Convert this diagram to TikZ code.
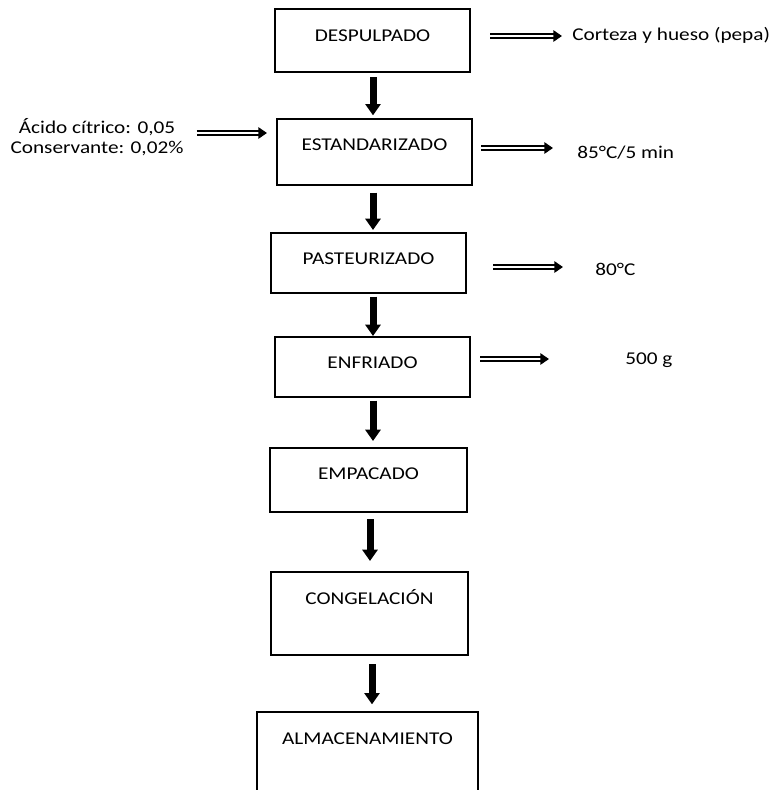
\documentclass[tikz,border=0pt]{standalone}
\usepackage{fontspec}
\setmainfont{Carlito}[FakeStretch=1.18]
\usetikzlibrary{arrows.meta,calc}

\def\u{0.75pt}

\begin{document}
\begin{tikzpicture}[x=0.75pt,y=-0.75pt,
  stepbox/.style={draw, line width=1.5pt, inner sep=0pt},
  steptext/.style={font=\fontsize{13.5pt}{15pt}\selectfont, inner sep=0pt, anchor=base},
  note/.style={font=\fontsize{13.5pt}{15pt}\selectfont, inner sep=0pt},
  flow/.style={line width=5.25pt, -{Triangle[width=11.25pt,length=8.5pt]}},
  feed/.style={double=white, double distance=1.8pt, line width=1.4pt,
    -{Triangle[width=8.5pt,length=6.5pt]}},
]
\useasboundingbox (0,0) rectangle (773,790);
\clip (0,0) rectangle (773,790);

% process steps
\node[stepbox, minimum width=195*\u, minimum height=63*\u] (d1) at (372.5,40.5) {};
\node[stepbox, minimum width=195*\u, minimum height=66*\u] (d2) at (374.5,152) {};
\node[stepbox, minimum width=195*\u, minimum height=60*\u] (d3) at (368.5,263) {};
\node[stepbox, minimum width=195*\u, minimum height=60*\u] (d4) at (372.5,367) {};
\node[stepbox, minimum width=197*\u, minimum height=64*\u] (d5) at (368.5,480) {};
\node[stepbox, minimum width=197*\u, minimum height=83*\u] (d6) at (369.5,613.5) {};
\node[stepbox, minimum width=221*\u, minimum height=100*\u] (d7) at (367.5,762) {};

\node[steptext] (t1) at (d1.center |- 0,41) {DESPULPADO};
\node[steptext] (t2) at (d2.center |- 0,150) {ESTANDARIZADO};
\node[steptext] (t3) at (d3.center |- 0,264) {PASTEURIZADO};
\node[steptext] (t4) at (d4.center |- 0,368) {ENFRIADO};
\node[steptext] (t5) at (d5.center |- 0,479) {EMPACADO};
\node[steptext] (t6) at (d6.center |- 0,604) {CONGELACIÓN};
\node[steptext] (t7) at (d7.center |- 0,744) {ALMACENAMIENTO};

% inputs and outputs
\node[note, anchor=base west] (l1) at (572,40) {Corteza y hueso (pepa)};
\node[note, anchor=base, align=center, font=\fontsize{13.5pt}{14.8pt}\selectfont]
  (l2) at (97,153) {Ácido cítrico: 0,05\\Conservante: 0,02\%};
\node[note, anchor=base west] (l3) at (577,158) {85°C/5 min};
\node[note, anchor=base west] (l4) at (595,275) {80°C};
\node[note, anchor=base west] (l5) at (625,364) {500 g};

% main flow
\coordinate (spine) at (373,0);
\draw[flow, shorten <=3pt, shorten >=2pt] (d1.south -| spine) -- (d2.north -| spine);
\draw[flow, shorten <=5pt, shorten >=1.5pt] (d2.south -| spine) -- (d3.north -| spine);
\draw[flow, shorten <=2pt, shorten >=0pt] (d3.south -| spine) -- (d4.north -| spine);
\draw[flow, shorten <=2pt, shorten >=4.5pt] (d4.south -| spine) -- (d5.north -| spine);
\draw[flow, shorten <=4.5pt, shorten >=7.5pt] ($(d5.south -| spine)+(-3,0)$) -- ($(d6.north -| spine)+(-3,0)$);
\draw[flow, shorten <=6pt, shorten >=5pt] ($(d6.south -| spine)+(-1,0)$) -- ($(d7.north -| spine)+(-1,0)$);

% side streams
\draw[feed] ($(d1.east |- 0,36)+(19,0)$) -- ($(l1.west |- 0,36)+(-10,0)$);
\draw[feed] ($(l2.east |- 0,133)+(13,0)$) -- ($(d2.west |- 0,133)+(-9,0)$);
\draw[feed] ($(d2.east |- 0,148)+(8,0)$) -- ($(l3.west |- 0,148)+(-24,0)$);
\draw[feed] ($(d3.east |- 0,267)+(26,0)$) -- ($(l4.west |- 0,267)+(-32,0)$);
\draw[feed] ($(d4.east |- 0,359)+(9,0)$) -- ($(l5.west |- 0,359)+(-76,0)$);
\end{tikzpicture}
\end{document}
